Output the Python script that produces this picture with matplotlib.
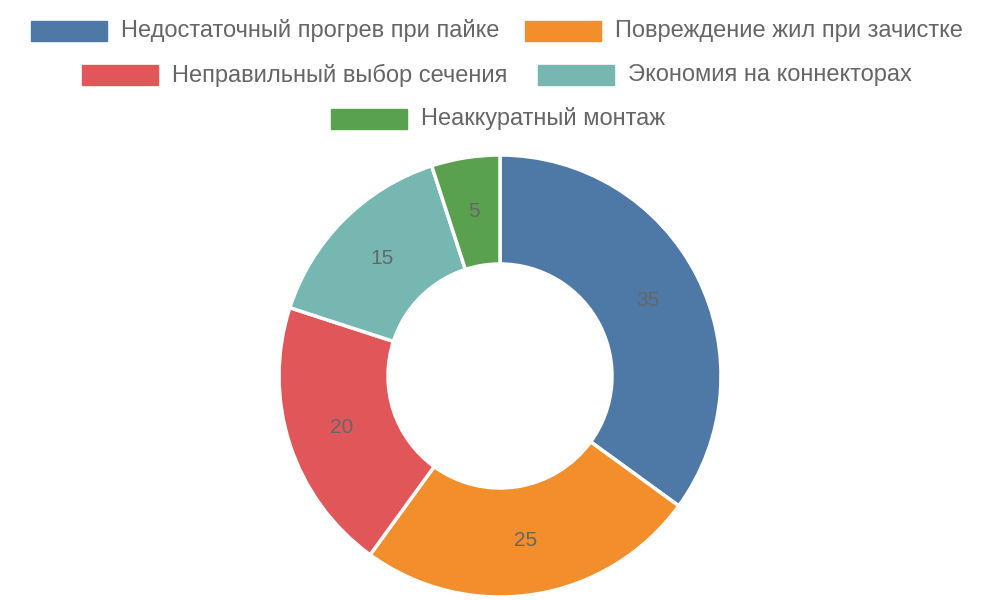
import matplotlib
matplotlib.use("Agg")
import matplotlib.pyplot as plt
from matplotlib.patches import Rectangle

categories = ["Недостаточный прогрев при пайке", "Повреждение жил при зачистке",
              "Неправильный выбор сечения", "Экономия на коннекторах", "Неаккуратный монтаж"]
values = [35, 25, 20, 15, 5]
colors = ["#4e79a7", "#f28e2b", "#e15759", "#76b7b2", "#59a14f"]

plt.rcParams['font.family'] = ['Liberation Sans', 'DejaVu Sans']
W, H = 1000, 600
fig = plt.figure(figsize=(10, 6), dpi=100)

cx, cy, R, r = 500, 376, 221, 112
ax = fig.add_axes([(cx - R) / W, (H - cy - R) / H, 2 * R / W, 2 * R / H])
wedges, texts = ax.pie(values, colors=colors, startangle=90, counterclock=False, radius=1,
                       wedgeprops=dict(width=(R - r) / R, edgecolor="white", linewidth=2.5),
                       labels=[str(v) for v in values], labeldistance=(R + r) / 2 / R,
                       textprops=dict(color="#666666", fontsize=15, ha="center", va="center"))
ax.set_xlim(-1, 1); ax.set_ylim(-1, 1)
ax.set_aspect("equal")
ax.axis("off")

# legend rows: (rect left x, row center y)
layout = [(31, 31), (525, 31), (82, 75), (538, 75), (331, 119)]
for (x, y), c, lab in zip(layout, colors, categories):
    fig.patches.append(Rectangle((x / W, (H - y - 10) / H), 76 / W, 20 / H,
                                 transform=fig.transFigure, color=c))
    fig.text((x + 90) / W, (H - y) / H, lab, fontsize=17, color="#666666",
             ha="left", va="center")

fig.savefig("out.png", dpi=100)
